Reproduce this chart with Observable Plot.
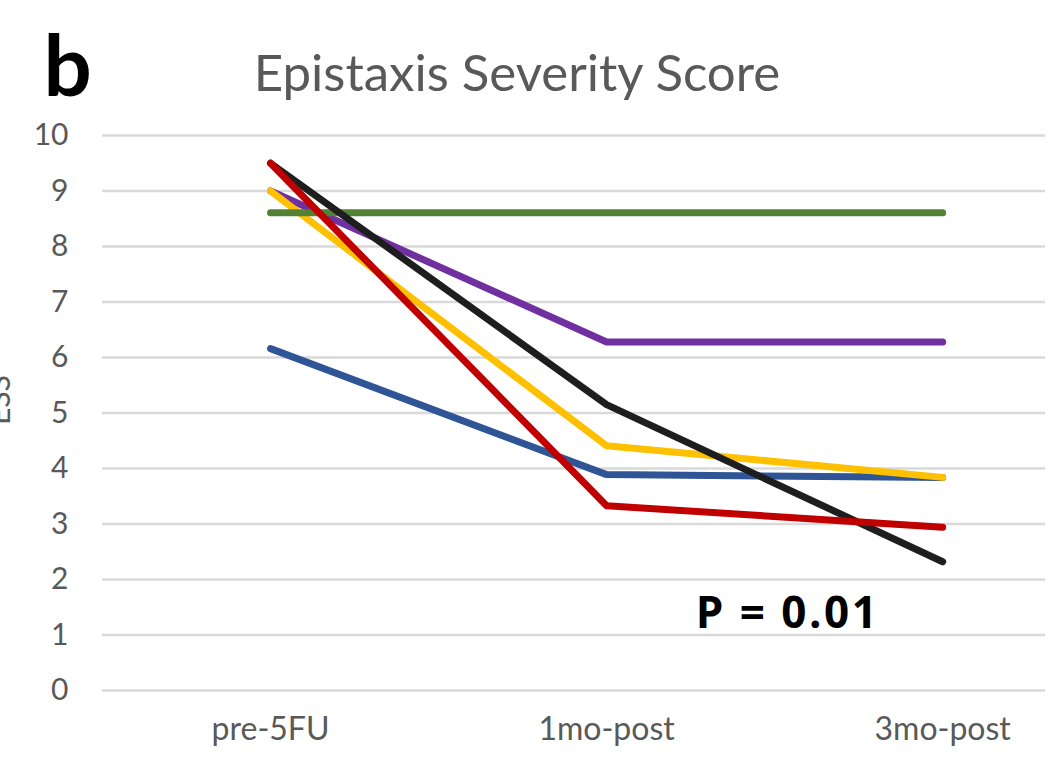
<!DOCTYPE html>
<html>
<head>
<meta charset="utf-8">
<script src="https://cdn.jsdelivr.net/npm/d3@7"></script>
<script src="https://cdn.jsdelivr.net/npm/@observablehq/plot@0.6"></script>
<style>
  html, body { margin: 0; padding: 0; background: #fff; }
  #chart svg { display: block; }
  #chart text.ptext { letter-spacing: 2.5px; }
</style>
</head>
<body>
<div id="chart"></div>
<script>
// ---- data ----
const timepoints = ["pre-5FU", "1mo-post", "3mo-post"];
const yTicks = [0, 1, 2, 3, 4, 5, 6, 7, 8, 9, 10];
const seriesNames = ["blue", "purple", "yellow", "green", "black", "red"];
const seriesColors = ["#2F5597", "#7030A0", "#FFC000", "#548235", "#1E1E1E", "#C00000"];
const blueValues   = [6.16, 3.89, 3.84];
const purpleValues = [9.0, 6.28, 6.28];
const yellowValues = [9.0, 4.41, 3.84];
const greenValues  = [8.61, 8.61, 8.61];
const blackValues  = [9.5, 5.15, 2.32];
const redValues    = [9.5, 3.33, 2.94];
const titleText = "Epistaxis Severity Score";
const panelLabel = "b";
const yLabel = "ESS";
const pText = "P = 0.01";

const allValues = [blueValues, purpleValues, yellowValues, greenValues, blackValues, redValues];

const lineMarks = allValues.map((vals, k) =>
  Plot.line(vals.map((v, i) => ({i, v})), {
    x: "i", y: "v",
    stroke: seriesColors[k], strokeWidth: 7,
    strokeLinecap: "round", strokeLinejoin: "round"
  })
);

const chart = Plot.plot({
  width: 1050,
  height: 765,
  marginLeft: 102,
  marginRight: 5,
  marginTop: 135,
  marginBottom: 75,
  style: {fontFamily: "Lato, sans-serif", background: "#fff"},
  x: {type: "linear", domain: [-0.5, 2.306]},
  y: {domain: [0, 10]},
  marks: [
    Plot.ruleY(yTicks, {stroke: "#d9d9d9", strokeWidth: 2.5}),
    Plot.axisY(yTicks, {tickSize: 0, tickPadding: 34, fontSize: 30, color: "#595959", label: null,
      tickFormat: d => String(d)}),
    Plot.axisX([0, 1, 2], {tickSize: 0, tickPadding: 27, fontSize: 32, color: "#595959", label: null,
      tickFormat: i => timepoints[i]}),
    ...lineMarks,
    Plot.text([titleText], {frameAnchor: "top", lineAnchor: "bottom", dy: -45, dx: -57,
      fontSize: 51, fill: "#595959"}),
    Plot.text([panelLabel], {frameAnchor: "top-left", textAnchor: "start", lineAnchor: "bottom",
      dx: -59, dy: -40, fontSize: 85, fontWeight: "bold", fill: "#000"}),
    Plot.text([yLabel], {frameAnchor: "left", rotate: -90, lineAnchor: "bottom", dx: -93, dy: 12,
      fontSize: 30, fill: "#595959"}),
    Plot.text([pText], {x: [1.265], y: [1.12], textAnchor: "start", lineAnchor: "bottom",
      fontSize: 44, fontWeight: "bold", fill: "#000", fontFamily: "'Open Sans', sans-serif",
      className: "ptext"})
  ]
});
d3.select(chart).selectAll(".ptext text").style("letter-spacing", "2.5px");
document.getElementById("chart").appendChild(chart);
</script>
</body>
</html>
